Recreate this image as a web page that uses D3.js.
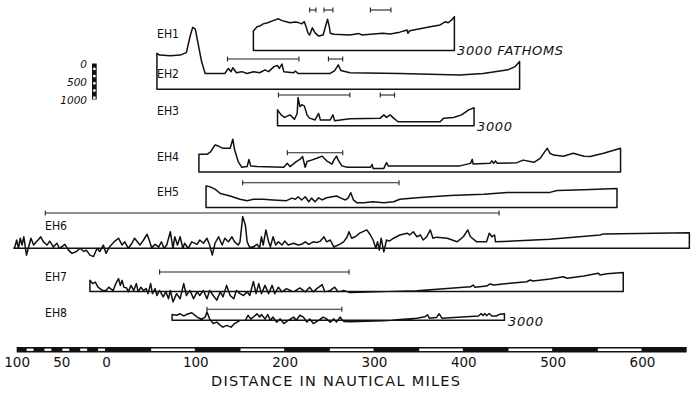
<!DOCTYPE html>
<html><head><meta charset="utf-8">
<script src="https://cdn.jsdelivr.net/npm/d3@7"></script>
<style>html,body{margin:0;padding:0;background:#fff;} svg{display:block;}</style>
</head><body>
<svg id="chart" width="700" height="393"></svg>
<script>
// ================= DATA =================
// distance in nautical miles, depth in fathoms (profile floor line = 3000 fathoms)
const profileNames = ["EH1","EH2","EH3","EH4","EH5","EH6","EH7","EH8"];
const baseDepth = 3000;

const eh1 = [[165,2460],[169,2340],[172,2320],[176,2260],[181,2230],[187,2170],[193,2120],[197,2170],[202,2200],[206,2230],[212,2210],[215,2220],[219,2260],[222,2200],[224,2340],[226,2510],[228,2570],[231,2370],[234,2510],[238,2600],[243,2570],[248,2130],[250,2340],[251,2520],[255,2550],[273,2570],[283,2530],[287,2570],[296,2550],[310,2520],[318,2540],[329,2490],[337,2430],[338,2520],[340,2450],[363,2340],[374,2290],[380,2200],[383,2230],[387,2150],[390,2060]];

const eh2 = [[57,2000],[60,2050],[72,2070],[83,2050],[90,1980],[94,1540],[97,1280],[100,1330],[103,1720],[107,2230],[111,2560],[133,2560],[137,2420],[140,2510],[142,2400],[146,2540],[152,2510],[158,2560],[165,2510],[172,2540],[178,2460],[182,2510],[188,2370],[192,2340],[194,2420],[197,2300],[199,2510],[210,2540],[212,2490],[215,2560],[251,2560],[256,2480],[260,2320],[263,2480],[273,2540],[329,2560],[396,2600],[422,2560],[441,2490],[450,2460],[458,2370],[463,2230]];

const eh3 = [[192,2560],[196,2700],[200,2770],[206,2700],[211,2820],[214,2660],[215,2220],[217,2470],[219,2420],[222,2450],[225,2700],[228,2790],[234,2840],[238,2660],[240,2840],[251,2840],[254,2700],[256,2860],[273,2810],[307,2790],[311,2700],[314,2770],[318,2700],[322,2790],[327,2890],[374,2890],[378,2790],[389,2770],[398,2700],[406,2560],[412,2500]];

const eh4 = [[104,2510],[113,2510],[117,2440],[122,2250],[126,2280],[128,2310],[131,2340],[139,2340],[142,2090],[144,2390],[148,2710],[152,2870],[158,2850],[160,2650],[162,2830],[169,2850],[199,2870],[203,2760],[206,2850],[213,2710],[217,2650],[220,2570],[223,2870],[225,2710],[230,2670],[236,2620],[242,2560],[247,2690],[253,2780],[255,2670],[258,2560],[260,2670],[264,2830],[270,2870],[296,2870],[298,2790],[299,2900],[311,2900],[314,2740],[316,2830],[396,2830],[408,2760],[410,2650],[411,2780],[430,2760],[432,2690],[434,2760],[436,2690],[438,2760],[460,2740],[467,2670],[479,2730],[486,2620],[491,2440],[494,2340],[497,2480],[501,2530],[512,2560],[523,2480],[535,2560],[542,2570],[557,2480],[576,2340]];

const eh5 = [[112,2400],[116,2420],[122,2490],[128,2610],[139,2680],[150,2770],[158,2810],[165,2770],[176,2770],[187,2790],[202,2810],[208,2740],[212,2770],[215,2700],[219,2790],[223,2700],[227,2840],[230,2740],[234,2840],[238,2730],[242,2790],[247,2730],[253,2700],[258,2680],[263,2740],[268,2790],[271,2740],[274,2590],[277,2790],[281,2870],[288,2870],[299,2840],[311,2870],[322,2840],[329,2770],[348,2730],[385,2670],[423,2630],[449,2580],[497,2580],[505,2530],[535,2510],[572,2470]];

const eh6 = [[-103,2990],[-102,2960],[-100,2770],[-98,3000],[-96,2720],[-94,2910],[-92,2680],[-89,3190],[-87,3000],[-84,2720],[-81,2910],[-78,2820],[-76,2770],[-73,2680],[-70,2820],[-66,2910],[-63,2800],[-59,2960],[-55,2860],[-52,3000],[-46,2890],[-42,3050],[-38,3140],[-33,3090],[-29,3000],[-25,3090],[-22,3050],[-18,3190],[-14,3230],[-10,3000],[-7,3090],[-3,2910],[0,3140],[4,2960],[10,2800],[14,2720],[18,2910],[21,2820],[25,3000],[29,2860],[32,2720],[38,2910],[42,2770],[46,2610],[48,2740],[51,2980],[55,2890],[59,2960],[62,2820],[65,3000],[68,2910],[72,2540],[75,3000],[77,2680],[80,2910],[83,2680],[86,3000],[88,2860],[92,3000],[96,2820],[102,2890],[105,2770],[109,2860],[113,2720],[116,2910],[119,3190],[122,2860],[126,2680],[130,2910],[133,2720],[137,2820],[141,2680],[144,2820],[148,2910],[150,2820],[153,2120],[156,2350],[158,2820],[161,2980],[165,2960],[169,2890],[172,2980],[174,2680],[176,2910],[179,2490],[182,2820],[184,2960],[187,2680],[190,2910],[193,2820],[197,2910],[200,2800],[204,2910],[210,2860],[215,2910],[219,2890],[223,2820],[227,2890],[232,2820],[236,2840],[240,2800],[244,2680],[247,2820],[251,2770],[255,2960],[260,2910],[266,2820],[270,2680],[272,2540],[275,2720],[279,2680],[284,2580],[292,2490],[296,2630],[299,2770],[302,3000],[304,2820],[306,3050],[308,2720],[311,3100],[314,2770],[317,2800],[322,2720],[329,2630],[337,2580],[340,2630],[344,2540],[348,2680],[352,2630],[355,2770],[359,2680],[363,2490],[366,2720],[370,2690],[382,2720],[393,2820],[400,2680],[405,2490],[408,2680],[415,2820],[426,2820],[429,2580],[432,2680],[435,2630],[436,2820],[497,2750],[553,2630],[557,2600],[653,2570]];

const eh7 = [[-18,2690],[-15,2780],[-12,2740],[-9,2880],[-4,2970],[0,2970],[3,2880],[5,2920],[8,2970],[11,2780],[14,2640],[16,2830],[18,2690],[20,2880],[23,2900],[25,3010],[28,2830],[31,2970],[34,2780],[36,3010],[39,2880],[42,2970],[45,2920],[47,3060],[50,2780],[52,3060],[55,2920],[57,3110],[60,2970],[64,3150],[67,3010],[70,3200],[72,2970],[75,3290],[79,3060],[83,3200],[87,2780],[90,3110],[94,2970],[98,3200],[102,3010],[105,3110],[109,2970],[113,3200],[116,2970],[120,3110],[124,3240],[128,3010],[131,3150],[135,2830],[139,3110],[143,3200],[146,2970],[150,3060],[154,3110],[158,3010],[161,3110],[165,2720],[168,3060],[171,2780],[174,3060],[178,2830],[182,3060],[186,2830],[189,3060],[193,2880],[197,3010],[202,2920],[210,3010],[217,2900],[223,3010],[228,2880],[232,3010],[236,2920],[242,2810],[245,3010],[251,2970],[256,2880],[260,3010],[266,2970],[273,3030],[348,2980],[408,2870],[411,2820],[413,2880],[426,2850],[430,2790],[434,2820],[452,2770],[471,2730],[475,2680],[478,2710],[497,2650],[512,2590],[516,2630],[535,2570],[551,2490],[553,2540],[561,2510],[579,2470]];

const eh8 = [[74,2840],[79,2860],[83,2820],[87,2880],[90,2840],[96,2790],[102,2910],[107,2970],[111,2910],[113,2770],[116,2960],[120,3090],[124,3050],[128,3140],[131,3190],[135,3140],[140,3190],[144,3090],[150,3000],[156,3000],[159,2860],[162,2960],[165,2910],[169,2820],[172,2910],[174,2840],[178,2960],[181,2840],[184,3000],[187,2910],[191,3050],[195,2960],[199,3090],[204,3000],[210,2910],[213,3000],[217,2860],[221,2910],[225,3050],[228,2960],[232,3090],[238,3000],[243,2910],[247,2960],[251,3050],[255,2960],[258,3050],[262,2910],[266,3030],[273,3040],[311,3010],[322,2990],[348,2940],[357,2900],[360,2850],[362,2940],[370,2920],[373,2820],[376,2940],[417,2880],[420,2810],[422,2870],[424,2810],[426,2870],[429,2810],[432,2880],[437,2880],[441,2830],[446,2820]];

const profiles = [eh1, eh2, eh3, eh4, eh5, eh6, eh7, eh8];

// section brackets: [profile, start nm, end nm]
const brackets = [["EH1",228,235],["EH1",244,254],["EH1",296,319],["EH2",136,216],["EH2",249,265],["EH3",193,273],["EH3",307,323],["EH4",203,265],["EH5",153,328],["EH6",-68,440],["EH7",60,272],["EH8",113,264]];

const distanceTicks = [-100,-50,0,100,200,300,400,500,600];
const depthTicks = [0,500,1000];
const axisTitle = "DISTANCE IN NAUTICAL MILES";

// ================= LAYOUT =================
const svg = d3.select("#chart");
const x = d3.scaleLinear().domain([0, 600]).range([106, 642]);
const dz = d3.scaleLinear().domain([0, 1000]).range([0, 36]); // fathoms -> px
const rowBase = {EH1:50.5, EH2:89.3, EH3:125.7, EH4:172, EH5:207.5, EH6:248.3, EH7:291.5, EH8:320.3};
const labelPos = {EH1:[157,38], EH2:[157,77.5], EH3:[157,114.5], EH4:[157,160.5], EH5:[157,195.5], EH6:[45,229.5], EH7:[45,280.5], EH8:[45,317]};
const bracketY = {EH1:10, EH2:59, EH3:95, EH4:152.7, EH5:182.7, EH6:213, EH7:272, EH8:309.3};
const font = "'DejaVu Sans', sans-serif";

// profiles
profileNames.forEach((name, i) => {
  const data = profiles[i];
  const base = rowBase[name];
  const pts = [[data[0][0], baseDepth], ...data, [data[data.length-1][0], baseDepth]];
  const line = d3.line().x(d => x(d[0])).y(d => base + dz(d[1] - baseDepth));
  svg.append("path").attr("d", line(pts) + "Z")
    .attr("fill", "none").attr("stroke", "#111").attr("stroke-width", 1.5)
    .attr("stroke-linejoin", "round");
  svg.append("text").attr("x", labelPos[name][0]).attr("y", labelPos[name][1])
    .attr("font-family", font).attr("font-size", 12).attr("fill", "#111")
    .attr("textLength", 22).attr("lengthAdjust", "spacingAndGlyphs")
    .text(name);
});

// brackets
brackets.forEach(([name, s, e]) => {
  const y = bracketY[name];
  const g = svg.append("g").attr("stroke", "#222").attr("stroke-width", 1.1);
  g.append("line").attr("x1", x(s)).attr("x2", x(e)).attr("y1", y).attr("y2", y);
  [s, e].forEach(v => g.append("line").attr("x1", x(v)).attr("x2", x(v)).attr("y1", y - 2.5).attr("y2", y + 2.5));
});

// "3000" annotations
svg.append("text").attr("x", 457).attr("y", 55).attr("font-family", font).attr("font-style", "italic")
  .attr("font-size", 13).attr("textLength", 106).attr("lengthAdjust", "spacing").attr("fill", "#111").text("3000 FATHOMS");
svg.append("text").attr("x", 477).attr("y", 130.5).attr("font-family", font).attr("font-style", "italic")
  .attr("font-size", 13).attr("textLength", 35).attr("lengthAdjust", "spacing").attr("fill", "#111").text("3000");
svg.append("text").attr("x", 508).attr("y", 325.5).attr("font-family", font).attr("font-style", "italic")
  .attr("font-size", 13).attr("textLength", 35).attr("lengthAdjust", "spacing").attr("fill", "#111").text("3000");

// vertical depth scale
const vTop = 63.5, vX = 92, vW = 4.7;
svg.append("rect").attr("x", vX).attr("y", vTop).attr("width", vW).attr("height", dz(1000)).attr("fill", "#111");
d3.range(100, 1000, 200).forEach(v => {
  svg.append("rect").attr("x", vX + 1.1).attr("y", vTop + dz(v) + 0.6).attr("width", vW - 2.2).attr("height", dz(100) - 1.2).attr("fill", "#fff");
});
depthTicks.forEach(v => {
  svg.append("text").attr("x", 87).attr("y", vTop + dz(v) + 1).attr("dy", "0.35em")
    .attr("text-anchor", "end").attr("font-family", font).attr("font-style", "italic")
    .attr("font-size", 10.5).attr("fill", "#111").text(v);
});

// distance scale bar
const barY = 347, barH = 5.5;
svg.append("rect").attr("x", x(-100)).attr("y", barY).attr("width", x(650) - x(-100)).attr("height", barH).attr("fill", "#111");
d3.range(-90, 0, 20).forEach(v => {
  svg.append("rect").attr("x", x(v) + 1).attr("y", barY + 1.6).attr("width", x(v + 10) - x(v) - 2).attr("height", barH - 3.2).attr("fill", "#fff");
});
d3.range(50, 650, 100).forEach(v => {
  svg.append("rect").attr("x", x(v) + 0.5).attr("y", barY + 1.5).attr("width", x(v + 50) - x(v) - 1).attr("height", barH - 3).attr("fill", "#fff");
});

const axis = d3.axisBottom(x).tickValues(distanceTicks).tickFormat(d => Math.abs(d)).tickSize(0).tickPadding(0);
const ag = svg.append("g").attr("transform", "translate(0,357.5)").call(axis);
ag.select(".domain").remove();
ag.selectAll("text").attr("font-family", font).attr("font-size", 13.5).attr("fill", "#111");

svg.append("text").attr("x", 211).attr("y", 385.5).attr("font-family", font).attr("font-size", 14.5)
  .attr("textLength", 249).attr("lengthAdjust", "spacing").attr("fill", "#111").text(axisTitle);
</script>
</body></html>
